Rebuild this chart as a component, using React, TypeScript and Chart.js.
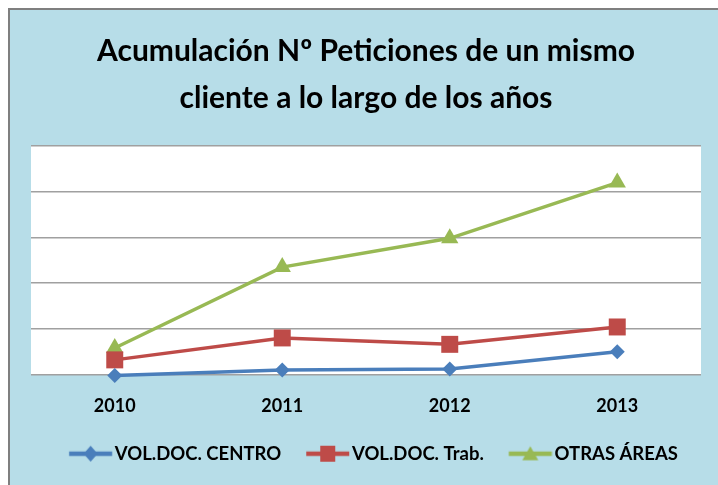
import React, { useEffect, useRef } from "react";
import { Chart, registerables } from "chart.js";

Chart.register(...registerables);

const categories = ["2010", "2011", "2012", "2013"];
const seriesNames = ["VOL.DOC. CENTRO", "VOL.DOC. Trab.", "OTRAS ÁREAS"];
const volDocCentro = [-0.2, 1, 1.2, 5];
const volDocTrab = [3.2, 8, 6.6, 10.4];
const otrasAreas = [5.8, 23.5, 29.8, 42];
const titleLines = ["Acumulación Nº Peticiones de un mismo", "cliente a lo largo de los años"];
const yMax = 50;
const yStep = 10;

const FONT = "Lato";

function makeLegendImage(color: string, style: string): HTMLCanvasElement {
  const c = document.createElement("canvas");
  c.width = 66;
  c.height = 20;
  const ctx = c.getContext("2d")!;
  const x0 = 22.25;
  const x1 = 65.25;
  const cy = 10;
  ctx.strokeStyle = color;
  ctx.lineWidth = 4.5;
  ctx.beginPath();
  ctx.moveTo(x0, cy);
  ctx.lineTo(x1, cy);
  ctx.stroke();
  const cx = (x0 + x1) / 2;
  ctx.fillStyle = color;
  ctx.beginPath();
  if (style === "diamond") {
    ctx.moveTo(cx, cy - 8);
    ctx.lineTo(cx + 7, cy);
    ctx.lineTo(cx, cy + 8);
    ctx.lineTo(cx - 7, cy);
  } else if (style === "square") {
    ctx.rect(cx - 7.5, cy - 8, 15, 16);
  } else {
    ctx.moveTo(cx, cy - 7.5);
    ctx.lineTo(cx + 8, cy + 6.5);
    ctx.lineTo(cx - 8, cy + 6.5);
  }
  ctx.closePath();
  ctx.fill();
  return c;
}

export default function App() {
  const ref = useRef<HTMLCanvasElement | null>(null);

  useEffect(() => {
    if (!ref.current) return;
    const colors = ["#4A7EBB", "#BE4B48", "#98B954"];
    const legendImgs = [
      makeLegendImage(colors[0], "diamond"),
      makeLegendImage(colors[1], "square"),
      makeLegendImage(colors[2], "triangle"),
    ];

    const whiteArea = {
      id: "whiteArea",
      beforeDraw(chart: any) {
        const { ctx, chartArea } = chart;
        ctx.save();
        ctx.fillStyle = "#FFFFFF";
        ctx.fillRect(chartArea.left, chartArea.top, chartArea.right - chartArea.left, chartArea.bottom - chartArea.top);
        ctx.restore();
      },
    };

    const chart = new Chart(ref.current, {
      type: "line",
      data: {
        labels: categories,
        datasets: [
          {
            label: seriesNames[0],
            data: volDocCentro,
            borderColor: colors[0],
            backgroundColor: colors[0],
            borderWidth: 3.5,
            pointStyle: "rectRot",
            pointRadius: 7.5,
            pointBorderWidth: 0,
            clip: false,
          },
          {
            label: seriesNames[1],
            data: volDocTrab,
            borderColor: colors[1],
            backgroundColor: colors[1],
            borderWidth: 3.5,
            pointStyle: "rect",
            pointRadius: 12,
            pointBorderWidth: 0,
            clip: false,
          },
          {
            label: seriesNames[2],
            data: otrasAreas,
            borderColor: colors[2],
            backgroundColor: colors[2],
            borderWidth: 3.5,
            pointStyle: "triangle",
            pointRadius: 10,
            pointBorderWidth: 0,
            clip: false,
          },
        ],
      },
      options: {
        animation: false,
        responsive: false,
        maintainAspectRatio: false,
        layout: { padding: { left: 21, right: 17, top: 0, bottom: 12 } },
        plugins: {
          tooltip: { enabled: false },
          title: {
            display: true,
            text: titleLines,
            color: "#000000",
            font: { family: FONT, size: 30, weight: "bold", lineHeight: 47 / 30 },
            padding: { top: 18, bottom: 24 },
          },
          legend: {
            position: "bottom",
            labels: {
              usePointStyle: true,
              pointStyleWidth: 51.5,
              padding: 10,
              color: "#000000",
              font: { family: FONT, size: 18.5, weight: "bold" },
              generateLabels(chart: any) {
                const items = Chart.defaults.plugins.legend.labels.generateLabels(chart);
                items.forEach((it: any, i: number) => {
                  it.pointStyle = legendImgs[i];
                });
                return items;
              },
            },
          },
        },
        scales: {
          x: {
            offset: true,
            grid: { display: false, drawTicks: false },
            border: { display: false },
            ticks: {
              color: "#000000",
              font: { family: FONT, size: 18, weight: "bold" },
              padding: 21,
            },
            afterFit(axis: any) {
              axis.height = 60;
            },
          },
          y: {
            min: 0,
            max: yMax,
            grid: { color: "#A0A0A0", lineWidth: 1.5, drawTicks: false },
            border: { display: false },
            ticks: { display: false, stepSize: yStep },
            afterFit(axis: any) {
              axis.width = 0;
            },
          },
        },
      },
      plugins: [whiteArea],
    });
    return () => chart.destroy();
  }, []);

  return (
    <div
      style={{
        position: "fixed",
        left: 8,
        top: 8,
        width: 710,
        height: 477,
        boxSizing: "border-box",
        borderLeft: "2px solid #7F7F7F",
        borderTop: "2px solid #7F7F7F",
        background: "#B7DDE8",
      }}
    >
      <canvas ref={ref} width={708} height={475} style={{ display: "block" }} />
    </div>
  );
}
